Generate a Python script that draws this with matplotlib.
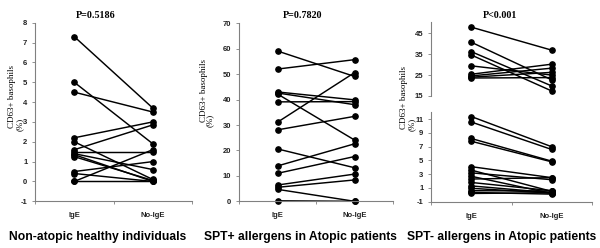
import matplotlib
matplotlib.use("Agg")
import matplotlib.pyplot as plt

# ---- data ----
categories = ["IgE", "No-IgE"]

p1_ige   = [7.3, 5.0, 4.5, 2.2, 2.0, 1.6, 1.5, 1.4, 1.25, 0.5, 0.4, 0.0, 0.0, 1.35]
p1_noige = [3.7, 1.9, 3.5, 3.0, 0.1, 2.85, 1.5, 0.6, 0.05, 1.0, 0.0, 1.6, 0.0, 0.0]

p2_ige   = [59.1, 52.0, 43.0, 42.2, 42.6, 39.1, 31.1, 28.1, 20.6, 13.9, 11.0, 6.4, 5.5, 4.7, 0.2]
p2_noige = [49.1, 55.7, 39.9, 24.1, 38.0, 39.2, 50.6, 33.4, 13.2, 22.6, 17.6, 10.7, 8.4, 0.0, 0.0]

p3u_ige   = [47.9, 40.7, 36.2, 34.6, 29.4, 25.4, 24.6, 24.0, 23.6]
p3u_noige = [36.9, 22.7, 19.8, 17.4, 25.0, 30.2, 28.3, 26.3, 23.8]

p3l_ige   = [11.4, 10.6, 8.2, 7.8, 4.1, 3.6, 3.2, 2.7, 2.3, 1.8, 1.3, 0.95, 0.6, 0.35, 0.2]
p3l_noige = [7.0, 6.6, 4.9, 4.8, 2.5, 0.5, 2.2, 0.2, 2.5, 0.6, 0.3, 0.25, 0.55, 0.1, 0.3]

titles = ["P=0.5186", "P=0.7820", "P<0.001"]
xlabels = ["Non-atopic healthy individuals", "SPT+ allergens in Atopic patients",
           "SPT- allergens in Atopic patients"]
ylabel_main = "CD63+ basophils"
ylabel_unit = "(%)"

p1_yticks = list(range(-1, 9))
p2_yticks = list(range(0, 71, 10))
p3u_yticks = [15, 25, 35, 45]
p3l_yticks = [-1, 1, 3, 5, 7, 9, 11]

SANS = "Liberation Sans"
SERIF = "Liberation Serif"
AXC = "#808080"

fig = plt.figure(figsize=(6.0, 2.48), dpi=100)
W, H = 600.0, 248.0


def ax_at(x0, x1, ytop, ybot):
    return fig.add_axes([x0 / W, 1 - ybot / H, (x1 - x0) / W, (ybot - ytop) / H])


def style(ax, yticks, ylim, show_x=True):
    ax.set_xlim(0, 2)
    ax.set_ylim(*ylim)
    for s in ["top", "right"]:
        ax.spines[s].set_visible(False)
    ax.spines["left"].set_color(AXC)
    ax.spines["left"].set_linewidth(0.8)
    ax.set_yticks(yticks)
    ax.set_yticklabels([str(t) for t in yticks], fontfamily=SANS,
                       fontweight="bold", fontsize=5.5, color="#222222")
    ax.tick_params(axis="y", length=2.5, width=0.6, color=AXC, pad=3)
    if show_x:
        ax.spines["bottom"].set_color(AXC)
        ax.spines["bottom"].set_linewidth(0.8)
        ax.set_xticks([0.5, 1.5])
        ax.set_xticklabels(categories, fontfamily=SANS, fontweight="bold",
                           fontsize=5.5, color="#222222")
        ax.tick_params(axis="x", which="major", length=0, pad=8)
        ax.set_xticks([0, 1, 2], minor=True)
        ax.tick_params(axis="x", which="minor", length=2.5, width=0.6, color=AXC)
    else:
        ax.spines["bottom"].set_visible(False)
        ax.set_xticks([])


def draw_pairs(ax, a, b):
    for va, vb in zip(a, b):
        ax.plot([0.5, 1.5], [va, vb], color="black", lw=1.05,
                marker="o", ms=3.8, mfc="black", mec="black", clip_on=False)


# Panel 1
ax1 = ax_at(35, 192, 22.7, 201.3)
style(ax1, p1_yticks, (-1, 8))
draw_pairs(ax1, p1_ige, p1_noige)

# Panel 2
ax2 = ax_at(239, 393, 23.3, 201.3)
style(ax2, p2_yticks, (0, 70))
draw_pairs(ax2, p2_ige, p2_noige)

# Panel 3 (broken axis)
ax3u = ax_at(431, 592, 21.7, 96.0)
style(ax3u, p3u_yticks, (15, 50.5), show_x=False)
draw_pairs(ax3u, p3u_ige, p3u_noige)

ax3l = ax_at(431, 592, 111.7, 201.7)
style(ax3l, p3l_yticks, (-1, 12.1))
draw_pairs(ax3l, p3l_ige, p3l_noige)

# Titles
for x, t in zip([96, 303, 500], titles):
    fig.text(x / W, 1 - 15 / H, t, ha="center", va="center",
             fontfamily=SERIF, fontweight="bold", fontsize=7.2)

# Bottom labels
for x, t in zip([98, 300, 502], xlabels):
    fig.text(x / W, 1 - 237 / H, t, ha="center", va="center",
             fontfamily=SANS, fontweight="bold", fontsize=8.7)

# Y labels
for (x1, y1, x2, y2) in [(12.0, 96.5, 19.5, 124), (203.5, 91, 210, 120), (404.0, 97.5, 412, 124)]:
    fig.text(x1 / W, 1 - y1 / H, ylabel_main, rotation=90, ha="center", va="center",
             fontfamily=SERIF, fontsize=6.5)
    fig.text(x2 / W, 1 - y2 / H, ylabel_unit, rotation=90, ha="center", va="center",
             fontfamily=SERIF, fontsize=6.5)

fig.savefig("out.png", dpi=100)
